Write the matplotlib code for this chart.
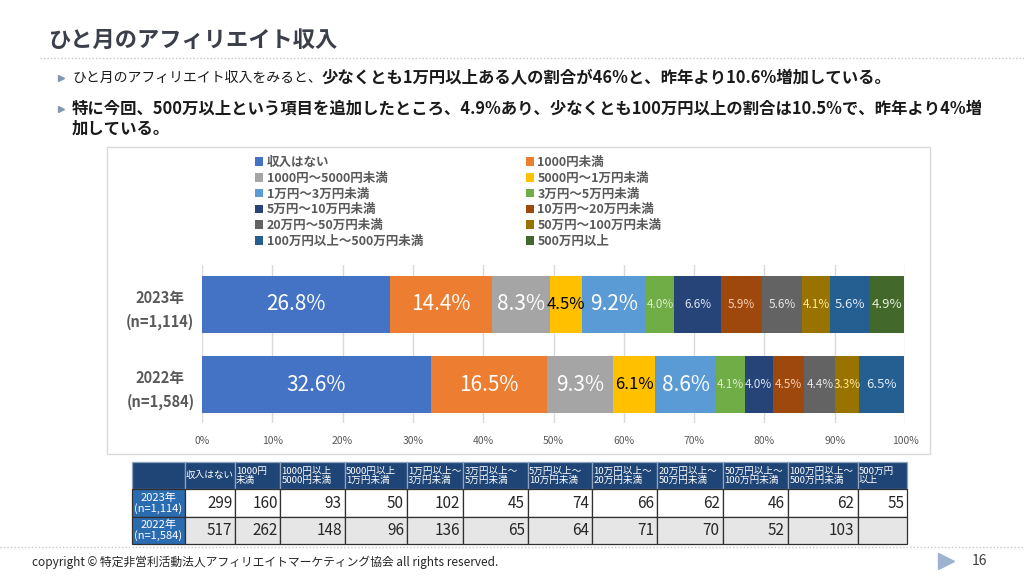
import matplotlib.pyplot as plt
from matplotlib.patches import Patch, Rectangle
from matplotlib.lines import Line2D
from matplotlib.table import Table

plt.rcParams['font.family'] = ['Noto Sans CJK JP', 'DejaVu Sans']

# ---- data ----
categories = ["収入はない", "1000円未満", "1000円～5000円未満", "5000円～1万円未満",
              "1万円～3万円未満", "3万円～5万円未満", "5万円～10万円未満", "10万円～20万円未満",
              "20万円～50万円未満", "50万円～100万円未満", "100万円以上～500万円未満", "500万円以上"]
year_labels = ["2023年\n(n=1,114)", "2022年\n(n=1,584)"]
share_2023 = [26.8, 14.4, 8.3, 4.5, 9.2, 4.0, 6.6, 5.9, 5.6, 4.1, 5.6, 4.9]
share_2022 = [32.6, 16.5, 9.3, 6.1, 8.6, 4.1, 4.0, 4.5, 4.4, 3.3, 6.5, 0.0]
x_ticks = [0, 10, 20, 30, 40, 50, 60, 70, 80, 90, 100]

table_headers = ["収入はない", "1000円\n未満", "1000円以上\n5000円未満", "5000円以上\n1万円未満",
                 "1万円以上～\n3万円未満", "3万円以上～\n5万円未満", "5万円以上～\n10万円未満",
                 "10万円以上～\n20万円未満", "20万円以上～\n50万円未満", "50万円以上～\n100万円未満",
                 "100万円以上～\n500万円未満", "500万円\n以上"]
count_2023 = [299, 160, 93, 50, 102, 45, 74, 66, 62, 46, 62, 55]
count_2022 = [517, 262, 148, 96, 136, 65, 64, 71, 70, 52, 103, None]

# ---- styles ----
colors = ['#4472C4', '#ED7D31', '#A5A5A5', '#FFC000', '#5B9BD5', '#70AD47',
          '#264478', '#9E480E', '#636363', '#997300', '#255E91', '#43682B']
label_colors = ['#ffffff', '#ffffff', '#ffffff', '#000000', '#ffffff', '#d9ebcc',
                '#dae3f3', '#f8cbad', '#e7e6e6', '#ffe699', '#deebf7', '#e2f0d9']
label_sizes_2023 = [15, 15, 15, 12, 15, 8.5, 8.5, 8.5, 8.5, 8.5, 9.5, 9.5]
label_sizes_2022 = [15, 15, 15, 12, 15, 8.5, 8.5, 8.5, 8.5, 8.5, 9.5, 9.5]
text_gray = '#595959'

W, H = 1024, 586


def fig_box(x0, y0, x1, y1):
    """pixel box (top-left origin) -> figure fraction rect"""
    return [x0 / W, 1 - y1 / H, (x1 - x0) / W, (y1 - y0) / H]


fig = plt.figure(figsize=(W / 100, H / 100), dpi=100)
renderer = fig.canvas.get_renderer()

# title + dotted rules
fig.text(48 / W, 1 - 40 / H, "ひと月のアフィリエイト収入", fontsize=16, fontweight='bold',
         color='#3b3f4a', va='center')
for y_px, x0, x1 in [(58, 40, 1024), (547, 0, 1024)]:
    fig.add_artist(Line2D([x0 / W, x1 / W], [1 - y_px / H] * 2, transform=fig.transFigure,
                          color='#c8c8c8', lw=1, linestyle=(0, (1, 1.5))))


def rich_line(x_px, y_px, segments):
    x = x_px / W
    for txt, weight, size in segments:
        t = fig.text(x, 1 - y_px / H, txt, fontsize=size, fontweight=weight,
                     color='#1a1a1a', va='center')
        x = t.get_window_extent(renderer).x1 / W


# bullets
for y_px in [78, 109]:
    fig.add_artist(Line2D([61 / W], [1 - y_px / H], transform=fig.transFigure, marker='>',
                          ms=5, color='#8497b0', lw=0))
rich_line(72, 78, [("ひと月のアフィリエイト収入をみると、", 'normal', 10),
                   ("少なくとも1万円以上ある人の割合が46%と、昨年より10.6%増加している。", 'bold', 11.8)])
rich_line(72, 109, [("特に今回、500万以上という項目を追加したところ、4.9%あり、少なくとも100万円以上の割合は10.5%で、昨年より4%増", 'bold', 11.8)])
rich_line(72, 129, [("加している。", 'bold', 11.8)])

# chart frame
fig.add_artist(Rectangle((107 / W, 1 - 454 / H), (930 - 107) / W, (454 - 147) / H,
                         transform=fig.transFigure, fill=False, edgecolor='#d9d9d9', lw=1))

# stacked bars
ax = fig.add_axes(fig_box(202, 265, 905, 423))
y_pos = [1, 0]
for shares, sizes, y in [(share_2023, label_sizes_2023, 1), (share_2022, label_sizes_2022, 0)]:
    left = 0
    for i, val in enumerate(shares):
        if val > 0:
            ax.barh(y, val, left=left, height=0.71, color=colors[i], zorder=3)
            ax.text(left + val / 2, y, f"{val:.1f}%", ha='center', va='center',
                    fontsize=sizes[i], color=label_colors[i], zorder=4)
        left += val

ax.set_xlim(0, 100)
ax.set_ylim(-0.48, 1.49)
ax.set_xticks(x_ticks)
ax.set_xticklabels([f"{t}%" for t in x_ticks], fontsize=7.5, color=text_gray)
ax.set_yticks(y_pos)
ax.set_yticklabels(year_labels, fontsize=10.5, fontweight='bold', color=text_gray,
                   linespacing=1.6)
for lbl in ax.get_yticklabels():
    lbl.set_ha('center')
ax.tick_params(axis='y', length=0, pad=30)
ax.tick_params(axis='x', length=0, pad=9)
ax.grid(axis='x', color='#d9d9d9', lw=1, zorder=0)
for sp in ax.spines.values():
    sp.set_visible(False)

# legend, filled row by row like the original
order = list(range(0, 12, 2)) + list(range(1, 12, 2))
handles = [Patch(facecolor=colors[i], edgecolor='none') for i in order]
fig.legend(handles, [categories[i] for i in order], ncol=2, loc='upper left',
           bbox_to_anchor=(255 / W, 1 - 156 / H), frameon=False,
           prop={'size': 9, 'weight': 'bold'}, labelcolor=text_gray,
           handlelength=0.65, handleheight=0.65, handletextpad=0.3,
           labelspacing=0.22, columnspacing=8.2, borderpad=0, borderaxespad=0)

# data table
col_edges = [132, 185, 235, 280, 345, 407, 463, 528, 592, 657, 723, 788, 858, 907]
ax_t = fig.add_axes(fig_box(132, 462, 907, 544))
ax_t.axis('off')
tb = Table(ax_t, bbox=[0, 0, 1, 1])
navy, row_blue = '#1f4576', '#2b6cb0'
widths = [(b - a) / (col_edges[-1] - col_edges[0]) for a, b in zip(col_edges[:-1], col_edges[1:])]
rh = 1 / 3
c = tb.add_cell(0, 0, widths[0], rh, text="", facecolor=navy, edgecolor='#8fa3bf')
for j, head in enumerate(table_headers, start=1):
    c = tb.add_cell(0, j, widths[j], rh, text=head, loc='left', facecolor=navy, edgecolor='#8fa3bf')
    c.PAD = 0.02
    c.get_text().set_fontsize(6.9)
    c.get_text().set_color('white')
    c.get_text().set_linespacing(1.0)
for r, (lab, counts, bg) in enumerate([(year_labels[0], count_2023, 'white'),
                                        (year_labels[1], count_2022, '#e7e6e6')], start=1):
    c = tb.add_cell(r, 0, widths[0], rh, text=lab, loc='center', facecolor=row_blue, edgecolor='#303030')
    c.get_text().set_fontsize(8)
    c.get_text().set_color('white')
    c.get_text().set_linespacing(1.0)
    for j, v in enumerate(counts, start=1):
        c = tb.add_cell(r, j, widths[j], rh, text="" if v is None else str(v), loc='right',
                        facecolor=bg, edgecolor='#303030')
        c.PAD = 0.05
        c.get_text().set_fontsize(11)
        c.get_text().set_color('#262626')
tb.auto_set_font_size(False)
for cell in tb.get_celld().values():
    cell.set_linewidth(0.9)
ax_t.add_table(tb)

# footer
fig.text(32 / W, 1 - 562 / H, "copyright © 特定非営利活動法人アフィリエイトマーケティング協会 all rights reserved.",
         fontsize=8.5, color='#262626', va='center')
fig.add_artist(Line2D([946 / W], [1 - 561 / H], transform=fig.transFigure, marker='>',
                      ms=11, color='#9db3cf', lw=0))
fig.text(972 / W, 1 - 561 / H, "16", fontsize=10, color='#404040', va='center')

fig.savefig("out.png", dpi=100)
